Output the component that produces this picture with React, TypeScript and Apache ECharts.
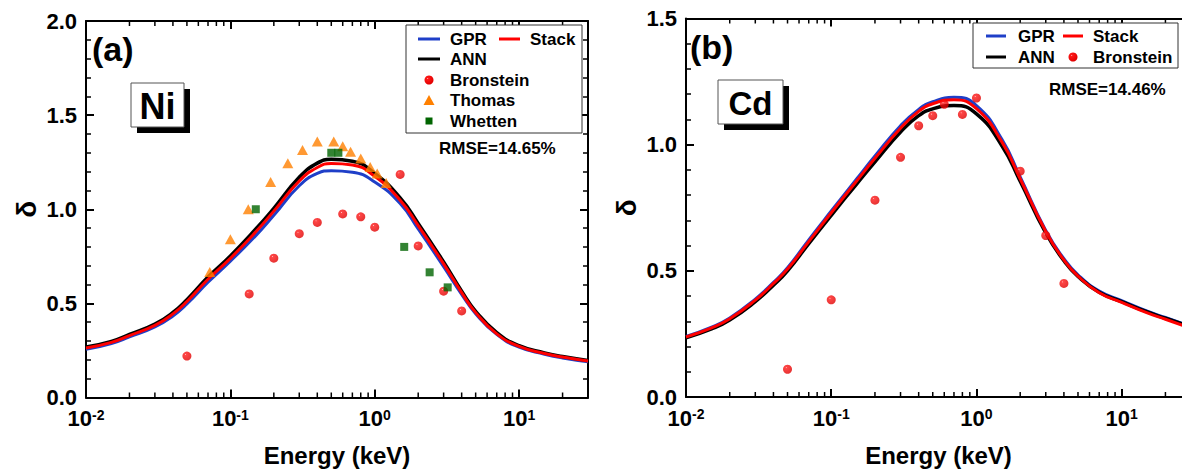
import React, { useEffect, useRef } from "react";
import * as echarts from "echarts";

// ---------- Data ----------
const niEnergy = [0.01, 0.015, 0.02, 0.03, 0.04, 0.05, 0.07, 0.1, 0.15, 0.2, 0.3, 0.4, 0.5, 0.7, 1.0, 1.5, 2, 3, 4, 5, 7, 10, 15, 20, 30];
const niANN = [0.268, 0.298, 0.335, 0.39, 0.452, 0.52, 0.64, 0.752, 0.895, 1.005, 1.17, 1.245, 1.265, 1.255, 1.19, 1.06, 0.925, 0.72, 0.565, 0.458, 0.345, 0.275, 0.237, 0.218, 0.197];
const niGPR = [0.256, 0.287, 0.322, 0.375, 0.433, 0.497, 0.612, 0.724, 0.86, 0.968, 1.125, 1.19, 1.205, 1.197, 1.145, 1.03, 0.895, 0.695, 0.548, 0.445, 0.335, 0.267, 0.23, 0.21, 0.19];
const niStack = [0.263, 0.293, 0.329, 0.383, 0.444, 0.51, 0.628, 0.739, 0.88, 0.99, 1.15, 1.222, 1.243, 1.235, 1.175, 1.048, 0.913, 0.71, 0.557, 0.451, 0.338, 0.272, 0.234, 0.215, 0.194];

const niBronsteinE = [0.05, 0.135, 0.2, 0.3, 0.4, 0.6, 0.8, 1.0, 1.5, 2.0, 3.0, 4.0];
const niBronsteinV = [0.22, 0.55, 0.74, 0.87, 0.93, 0.975, 0.96, 0.905, 1.185, 0.805, 0.565, 0.46];
const niThomasE = [0.072, 0.1, 0.133, 0.19, 0.25, 0.316, 0.4, 0.52, 0.6, 0.68, 0.8, 0.93, 1.04, 1.2];
const niThomasV = [0.667, 0.84, 1.0, 1.145, 1.245, 1.315, 1.36, 1.36, 1.335, 1.305, 1.27, 1.225, 1.19, 1.14];
const niWhettenE = [0.15, 0.5, 0.56, 1.6, 2.4, 3.2];
const niWhettenV = [1.0, 1.3, 1.3, 0.8, 0.665, 0.585];

const cdEnergy = [0.01, 0.015, 0.02, 0.03, 0.04, 0.05, 0.07, 0.1, 0.15, 0.2, 0.3, 0.4, 0.5, 0.7, 1.0, 1.5, 2, 3, 4, 5, 7, 10, 15, 20, 30];
const cdANN = [0.235, 0.27, 0.305, 0.378, 0.443, 0.5, 0.608, 0.72, 0.845, 0.932, 1.05, 1.115, 1.142, 1.155, 1.122, 0.995, 0.855, 0.65, 0.54, 0.478, 0.415, 0.378, 0.337, 0.312, 0.278];
const cdGPR = [0.24, 0.277, 0.313, 0.388, 0.454, 0.512, 0.623, 0.737, 0.865, 0.955, 1.075, 1.14, 1.17, 1.188, 1.155, 1.02, 0.872, 0.66, 0.548, 0.484, 0.42, 0.382, 0.34, 0.315, 0.28];
const cdStack = [0.238, 0.274, 0.31, 0.384, 0.45, 0.507, 0.616, 0.73, 0.857, 0.946, 1.065, 1.132, 1.162, 1.178, 1.143, 1.01, 0.865, 0.656, 0.543, 0.479, 0.413, 0.375, 0.333, 0.308, 0.272];

const cdBronsteinE = [0.05, 0.1, 0.2, 0.3, 0.4, 0.5, 0.6, 0.8, 1.0, 2.0, 3.0, 4.0];
const cdBronsteinV = [0.11, 0.385, 0.78, 0.95, 1.075, 1.115, 1.16, 1.12, 1.185, 0.895, 0.64, 0.45];

const xMin = 0.01;
const xMax = 30;
const niYMax = 2.0;
const cdYMax = 1.5;
const minorTickValues: number[] = [];
for (let n = -2; n <= 1; n++) {
  for (let k = 2; k <= 9; k++) {
    const v = k * Math.pow(10, n);
    if (v < xMax) minorTickValues.push(v);
  }
}

// ---------- Styling ----------
const FF = "'Liberation Sans', Arial, Helvetica, sans-serif";
const BLUE = "#1f3fc8";
const RED = "#ff0000";
const ORANGE = "#ff8000";
const GREEN = "#006400";
const sphere = {
  type: "radial",
  x: 0.36,
  y: 0.33,
  r: 0.68,
  colorStops: [
    { offset: 0, color: "#ffc0c0" },
    { offset: 0.14, color: "#ff1818" },
    { offset: 1, color: "#e00000" },
  ],
};

const zip = (a: number[], b: number[]) => a.map((v, i) => [v, b[i]]);

const xLabelFmt = (v: number) => {
  const e = Math.log10(v);
  const r = Math.round(e);
  if (Math.abs(e - r) > 1e-6) return "";
  return `{b|10}{s|${r}}`;
};

function makeXAxis(gridIndex: number, bottom: boolean) {
  return {
    type: "log",
    logBase: 10,
    gridIndex,
    min: xMin,
    max: xMax,
    position: bottom ? "bottom" : "top",
    name: bottom ? "Energy (keV)" : "",
    nameLocation: "middle",
    nameGap: 46,
    nameTextStyle: { fontFamily: FF, fontWeight: "bold", fontSize: 24, color: "#000" },
    axisLine: { show: true, onZero: false, lineStyle: { color: "#000", width: 2 } },
    axisTick: { show: true, inside: true, length: 8, lineStyle: { color: "#000", width: 2 } },
    minorTick: { show: false },
    splitLine: { show: false },
    axisLabel: bottom
      ? {
          show: true,
          margin: 10,
          formatter: xLabelFmt,
          rich: {
            b: { fontFamily: FF, fontWeight: "bold", fontSize: 22, color: "#000" },
            s: { fontFamily: FF, fontWeight: "bold", fontSize: 14, color: "#000", verticalAlign: "top" },
          },
        }
      : { show: false },
  };
}

function makeYAxis(gridIndex: number, left: boolean, max: number) {
  return {
    type: "value",
    gridIndex,
    min: 0,
    max,
    interval: 0.5,
    position: left ? "left" : "right",
    name: left ? "δ" : "",
    nameLocation: "middle",
    nameRotate: 90,
    nameGap: 46,
    nameTextStyle: { fontFamily: FF, fontWeight: "bold", fontSize: 28, color: "#000" },
    axisLine: { show: true, onZero: false, lineStyle: { color: "#000", width: 2 } },
    axisTick: { show: true, inside: true, length: 8, lineStyle: { color: "#000", width: 2 } },
    minorTick: { show: true, splitNumber: 5, length: 5, lineStyle: { color: "#000", width: 1.5 } },
    splitLine: { show: false },
    axisLabel: left
      ? {
          show: true,
          margin: 9,
          fontFamily: FF,
          fontWeight: "bold",
          fontSize: 22,
          color: "#000",
          formatter: (v: number) => v.toFixed(1),
        }
      : { show: false },
  };
}

function lineSeries(name: string, xi: number, e: number[], v: number[], color: string, width: number) {
  return {
    name,
    type: "line",
    xAxisIndex: xi,
    yAxisIndex: xi,
    data: zip(e, v),
    showSymbol: false,
    symbol: "none",
    smooth: 0.5,
    lineStyle: { color, width },
    z: 3,
  };
}

function minorTickSeries(xi: number, yMax: number) {
  return {
    type: "custom",
    xAxisIndex: xi,
    yAxisIndex: xi,
    silent: true,
    clip: false,
    z: 10,
    data: minorTickValues.map((v) => [v, 0]),
    renderItem: (params: any, api: any) => {
      const v = api.value(0);
      const pb = api.coord([v, 0]);
      const pt = api.coord([v, yMax]);
      const style = { stroke: "#000", lineWidth: 1.5 };
      return {
        type: "group",
        children: [
          { type: "line", shape: { x1: pb[0], y1: pb[1], x2: pb[0], y2: pb[1] - 5 }, style },
          { type: "line", shape: { x1: pt[0], y1: pt[1], x2: pt[0], y2: pt[1] + 5 }, style },
        ],
      };
    },
  };
}

const txt = (x: number, y: number, text: string, size: number, align = "left") => ({
  type: "text",
  x,
  y,
  z: 100,
  style: { text, fontFamily: FF, fontWeight: "bold", fontSize: size, fill: "#000", align, verticalAlign: "middle" },
});
const seg = (x1: number, x2: number, y: number, color: string) => ({
  type: "line",
  z: 100,
  shape: { x1, y1: y, x2, y2: y },
  style: { stroke: color, lineWidth: 3 },
});
const labelBox = (x: number, y: number, w: number, h: number, label: string, size: number) => [
  { type: "rect", z: 98, shape: { x: x + 6, y: y + 6, width: w, height: h }, style: { fill: "#000" } },
  { type: "rect", z: 99, shape: { x, y, width: w, height: h }, style: { fill: "#fff", stroke: "#555", lineWidth: 1 } },
  txt(x + w / 2, y + h / 2 + 1, label, size, "center"),
];

export default function App() {
  const ref = useRef<HTMLDivElement>(null);
  useEffect(() => {
    if (!ref.current) return;
    const chart = echarts.init(ref.current, undefined, { renderer: "svg" });
    const option: any = {
      animation: false,
      backgroundColor: "#fff",
      grid: [
        { left: 86, top: 21, width: 502, height: 376.5 },
        { left: 686, top: 18.5, width: 505, height: 378.5 },
      ],
      xAxis: [makeXAxis(0, true), makeXAxis(0, false), makeXAxis(1, true), makeXAxis(1, false)],
      yAxis: [makeYAxis(0, true, niYMax), makeYAxis(0, false, niYMax), makeYAxis(1, true, cdYMax), makeYAxis(1, false, cdYMax)],
      series: [
        lineSeries("GPR", 0, niEnergy, niGPR, BLUE, 3),
        lineSeries("ANN", 0, niEnergy, niANN, "#000", 3.5),
        lineSeries("Stack", 0, niEnergy, niStack, RED, 3),
        {
          name: "Bronstein",
          type: "scatter",
          xAxisIndex: 0,
          yAxisIndex: 0,
          data: zip(niBronsteinE, niBronsteinV),
          symbol: "circle",
          symbolSize: 9,
          itemStyle: { color: sphere },
          z: 5,
        },
        {
          name: "Thomas",
          type: "scatter",
          xAxisIndex: 0,
          yAxisIndex: 0,
          data: zip(niThomasE, niThomasV),
          symbol: "triangle",
          symbolSize: [11, 10],
          itemStyle: { color: ORANGE },
          z: 6,
        },
        {
          name: "Whetten",
          type: "scatter",
          xAxisIndex: 0,
          yAxisIndex: 0,
          data: zip(niWhettenE, niWhettenV),
          symbol: "rect",
          symbolSize: 8,
          itemStyle: { color: GREEN },
          z: 7,
        },
        minorTickSeries(0, niYMax),
        lineSeries("GPR", 2, cdEnergy, cdGPR, BLUE, 3),
        lineSeries("ANN", 2, cdEnergy, cdANN, "#000", 3.5),
        lineSeries("Stack", 2, cdEnergy, cdStack, RED, 3),
        {
          name: "Bronstein",
          type: "scatter",
          xAxisIndex: 2,
          yAxisIndex: 2,
          data: zip(cdBronsteinE, cdBronsteinV),
          symbol: "circle",
          symbolSize: 9,
          itemStyle: { color: sphere },
          z: 5,
        },
        minorTickSeries(2, cdYMax),
      ],
      graphic: [
        // panel (a)
        txt(92, 49, "(a)", 34),
        ...labelBox(131, 83, 53, 44, "Ni", 36),
        { type: "rect", z: 99, shape: { x: 406, y: 25, width: 176, height: 108 }, style: { fill: "#fff", stroke: "#333", lineWidth: 1 } },
        seg(418, 440, 39, BLUE),
        txt(450, 39, "GPR", 17),
        seg(499, 520, 39, RED),
        txt(530, 39, "Stack", 17),
        seg(418, 440, 59, "#000"),
        txt(450, 59, "ANN", 17),
        { type: "circle", z: 100, shape: { cx: 429, cy: 80, r: 4.5 }, style: { fill: sphere } },
        txt(450, 80, "Bronstein", 17),
        { type: "polygon", z: 100, shape: { points: [[423.5, 105], [434.5, 105], [429, 95]] }, style: { fill: ORANGE } },
        txt(450, 100, "Thomas", 17),
        { type: "rect", z: 100, shape: { x: 425.5, y: 117.5, width: 7, height: 7 }, style: { fill: GREEN } },
        txt(450, 121, "Whetten", 17),
        txt(439, 148, "RMSE=14.65%", 17),
        // panel (b)
        txt(690, 47, "(b)", 34),
        ...labelBox(718, 80, 65, 44, "Cd", 33),
        { type: "rect", z: 99, shape: { x: 973, y: 23, width: 205, height: 45 }, style: { fill: "#fff", stroke: "#333", lineWidth: 1 } },
        seg(986, 1006, 36, BLUE),
        txt(1018, 36, "GPR", 17),
        seg(1063, 1083, 36, RED),
        txt(1093, 36, "Stack", 17),
        seg(986, 1006, 57, "#000"),
        txt(1018, 57, "ANN", 17),
        { type: "circle", z: 100, shape: { cx: 1073, cy: 57, r: 4.5 }, style: { fill: sphere } },
        txt(1093, 57, "Bronstein", 17),
        txt(1049, 89, "RMSE=14.46%", 17),
      ],
    };
    chart.setOption(option);
    return () => chart.dispose();
  }, []);
  return (
    <div style={{ position: "fixed", left: 0, top: 0, width: 1182, height: 473, overflow: "hidden", background: "#fff" }}>
      <div ref={ref} style={{ width: 1200, height: 473 }} />
    </div>
  );
}
